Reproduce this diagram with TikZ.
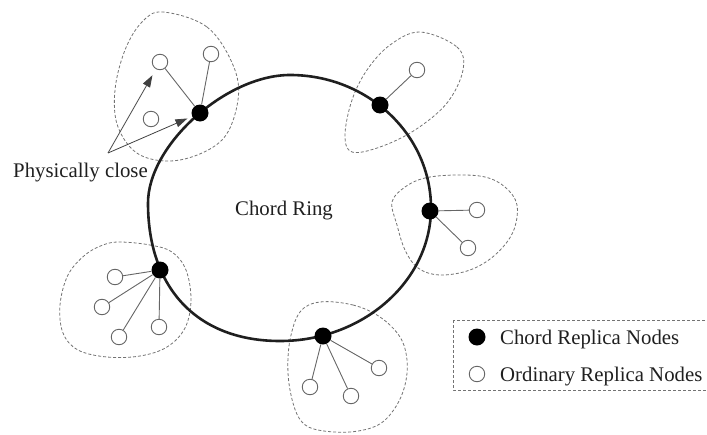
\documentclass[tikz,border=0pt]{standalone}
\usepackage{fontspec}
\setmainfont{Liberation Serif}
\usetikzlibrary{arrows.meta}

\tikzset{
  ring/.style={draw=black!88, line width=2.6pt},
  chordnode/.style={circle, fill=black, inner sep=0pt, minimum size=17pt},
  plainnode/.style={circle, draw=black!60, line width=0.9pt, fill=white, inner sep=0pt, minimum size=15.5pt},
  link/.style={draw=black!60, line width=0.9pt},
  zone/.style={draw=black!55, line width=0.8pt, dash pattern=on 3pt off 2pt},
  pointer/.style={draw=black!75, line width=0.8pt, -{Triangle[length=12pt,width=8pt]}},
  txt/.style={font=\fontsize{20.8}{24}\selectfont, text=black!88, inner sep=0pt, anchor=base west}
}

\begin{document}
\begin{tikzpicture}[x=1pt, y=-1pt]
  \useasboundingbox (0,0) rectangle (707,434);

  % dashed neighbourhoods around each chord node
  \draw[zone] plot[smooth cycle, tension=0.6] coordinates {
    (163,12) (207,27) (233,65) (238,100) (222,140) (180,160)
    (140,155) (118,127) (115,90) (125,50) (142,22)};
  \draw[zone] plot[smooth cycle, tension=0.6] coordinates {
    (420,32) (457,47) (463,70) (447,103) (415,130) (380,147)
    (352,152) (345,135) (352,100) (367,70) (390,45)};
  \draw[zone] plot[smooth cycle, tension=0.6] coordinates {
    (392,202) (405,187) (425,178) (455,175) (485,177) (505,187)
    (517,205) (513,232) (495,255) (470,270) (440,275) (418,268)
    (405,250) (397,225)};
  \draw[zone] plot[smooth cycle, tension=0.6] coordinates {
    (120,242) (150,245) (172,252) (186,270) (191,300) (185,328)
    (167,347) (140,356) (107,357) (78,350) (63,333) (60,305)
    (68,275) (85,255) (103,245)};
  \draw[zone] plot[smooth cycle, tension=0.6] coordinates {
    (320,302) (353,305) (380,317) (400,337) (407,360) (405,385)
    (395,408) (378,425) (350,432) (318,430) (302,422) (293,403)
    (288,373) (290,340) (300,312)};

  % the Chord ring: four quarter arcs, fuller at lower left, flatter at upper left
  \coordinate (rtop) at (290,75);
  \coordinate (rright) at (431,208);
  \coordinate (rbottom) at (280,341);
  \coordinate (rleft) at (148,203);
  \draw[ring] (rtop)
    .. controls (368,75) and (431,135) .. (rright)
    .. controls (431,281) and (363,341) .. (rbottom)
    .. controls (198,341) and (148,289) .. (rleft)
    .. controls (148,145) and (226,75) .. cycle;

  \node[txt] (ringname) at (235,215) {Chord Ring};

  % chord replica nodes on the ring
  \node[chordnode] (c1) at (200,113) {};
  \node[chordnode] (c2) at (380,105) {};
  \node[chordnode] (c3) at (430,211) {};
  \node[chordnode] (c4) at (160,270) {};
  \node[chordnode] (c5) at (323,336) {};

  % ordinary replica nodes
  \node[plainnode] (o1a) at (160,62) {};
  \node[plainnode] (o1b) at (211,54) {};
  \node[plainnode] (o1c) at (151,119) {};
  \node[plainnode] (o2a) at (417,70) {};
  \node[plainnode] (o3a) at (477,210) {};
  \node[plainnode] (o3b) at (468,248) {};
  \node[plainnode] (o4a) at (115,277) {};
  \node[plainnode] (o4b) at (102,307) {};
  \node[plainnode] (o4c) at (119,337) {};
  \node[plainnode] (o4d) at (159,327) {};
  \node[plainnode] (o5a) at (379,368) {};
  \node[plainnode] (o5b) at (310,387) {};
  \node[plainnode] (o5c) at (351,396) {};

  % links from chord nodes to their ordinary nodes
  \draw[link] (c1) -- (o1a);
  \draw[link] (c1) -- (o1b);
  \draw[link] (c2) -- (o2a);
  \draw[link] (c3) -- (o3a);
  \draw[link] (c3) -- (o3b);
  \draw[link] (c4) -- (o4a);
  \draw[link] (c4) -- (o4b);
  \draw[link] (c4) -- (o4c);
  \draw[link] (c4) -- (o4d);
  \draw[link] (c5) -- (o5a);
  \draw[link] (c5) -- (o5b);
  \draw[link] (c5) -- (o5c);

  % "Physically close" annotation
  \node[txt] (close) at (13,177) {Physically close};
  \coordinate (fork) at (108,153);
  \draw[pointer, shorten >=7pt] (fork) -- (o1a);
  \draw[pointer, shorten >=5pt] (fork) -- (c1);

  % legend
  \draw[zone] (453,320) rectangle (709,390);
  \node[chordnode] (keychord) at (477,337) {};
  \node[plainnode] (keyplain) at (477,374) {};
  \node[txt] (keychordtext) at (500,344) {Chord Replica Nodes};
  \node[txt] (keyplaintext) at (500,381) {Ordinary Replica Nodes};
\end{tikzpicture}
\end{document}
